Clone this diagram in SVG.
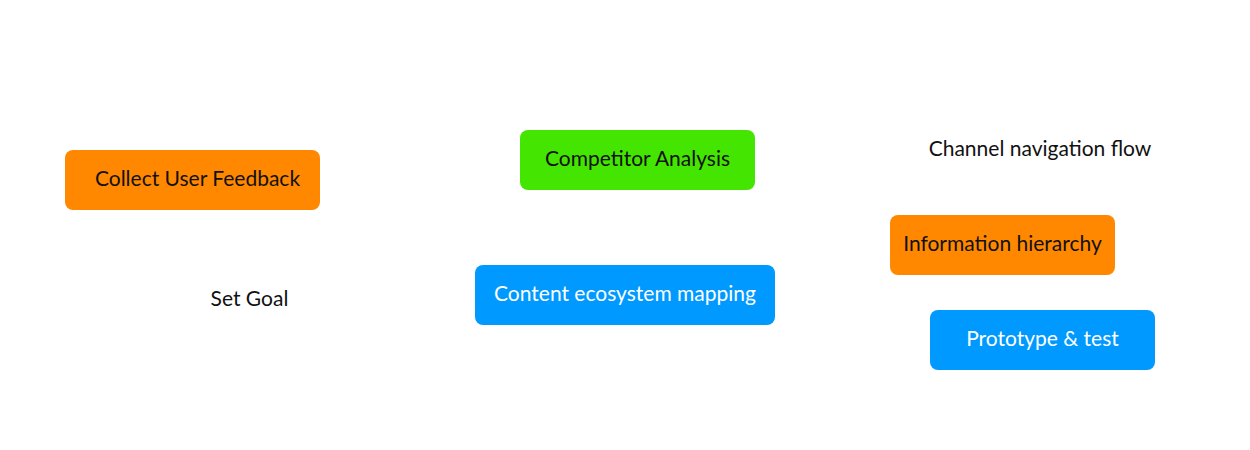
<svg xmlns="http://www.w3.org/2000/svg" width="1250" height="450" viewBox="0 0 1250 450">
<style>
.box{rx:8px;ry:8px}
.orange{fill:#FF8800}
.green{fill:#44E500}
.blue{fill:#0099FF}
text{font-family:Lato,"Noto Sans","Liberation Sans",sans-serif;font-size:21px;text-anchor:middle}
.dark{fill:#111111}
.light{fill:#FFFFFF}
</style>
<rect width="1250" height="450" fill="#FFFFFF"/>
<g id="connectors"></g>
<g id="collect-user-feedback">
<rect class="box orange" x="65" y="150" width="255" height="60"/>
<text class="dark" x="197.5" y="185.5">Collect User Feedback</text>
</g>
<g id="competitor-analysis">
<rect class="box green" x="520" y="130" width="235" height="60"/>
<text class="dark" x="637.5" y="165.5">Competitor Analysis</text>
</g>
<g id="content-ecosystem-mapping">
<rect class="box blue" x="475" y="265" width="300" height="60"/>
<text class="light" x="625" y="300.5">Content ecosystem mapping</text>
</g>
<g id="information-hierarchy">
<rect class="box orange" x="890" y="215" width="225" height="60"/>
<text class="dark" x="1002.5" y="250.5">Information hierarchy</text>
</g>
<g id="prototype-test">
<rect class="box blue" x="930" y="310" width="225" height="60"/>
<text class="light" x="1042.5" y="345.5">Prototype &amp; test</text>
</g>
<g id="channel-navigation-flow">
<text class="dark" x="1040" y="156">Channel navigation flow</text>
</g>
<g id="set-goal">
<text class="dark" x="249.5" y="306">Set Goal</text>
</g>
</svg>
